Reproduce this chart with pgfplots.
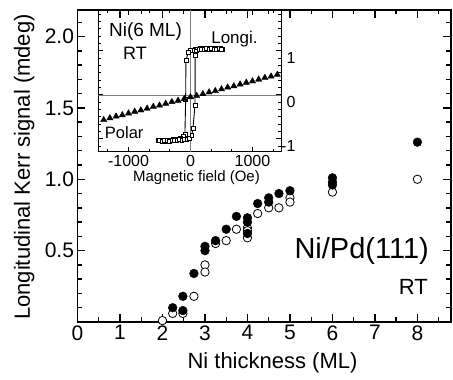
\documentclass[border=0pt]{standalone}
\usepackage{pgfplots}
\pgfplotsset{compat=1.18}
\usepackage{fontspec}
\setmainfont{Liberation Sans}
\begin{document}
\begin{tikzpicture}
\path[use as bounding box] (-77.5pt,-58pt) rectangle (375.5pt,322pt);
\begin{axis}[
  at={(0pt,0pt)}, anchor=south west,
  scale only axis, width=373.5pt, height=312pt,
  xmin=0, xmax=8.79, ymin=0, ymax=2.186,
  xtick={0,1,2,3,4,5,6,7,8}, xticklabels={0,1,2,3,4,5,6,7,8},
  minor xtick={0.5,1.5,2.5,3.5,4.5,5.5,6.5,7.5,8.5},
  ytick={0,0.5,1,1.5,2}, yticklabels={,0.5,1.0,1.5,2.0},
  minor ytick={0.1,0.2,0.3,0.4,0.6,0.7,0.8,0.9,1.1,1.2,1.3,1.4,1.6,1.7,1.8,1.9,2.1},
  tick align=inside,
  major tick length=8pt, minor tick length=4.5pt,
  tick style={black, line width=1.4pt},
  axis line style={line width=1.6pt},
  ticklabel style={font=\fontsize{21}{21}\selectfont},
  /pgf/number format/assume math mode=true,
  clip=false,
]
\addplot[only marks, mark=*, mark size=4.2pt, mark options={fill=white, draw=black, line width=0.8pt}] table {
x y
2.00 0.01
2.24 0.06
2.48 0.06
2.74 0.18
3.00 0.40
3.00 0.35
3.25 0.55
3.50 0.57
3.74 0.65
4.00 0.66
4.00 0.64
4.00 0.59
4.24 0.76
4.50 0.80
4.74 0.80
5.00 0.87
5.00 0.84
6.00 0.91
8.00 1.00
};
\addplot[only marks, mark=*, mark size=4.4pt, mark options={fill=black, draw=black}] table {
x y
2.24 0.10
2.48 0.08
2.48 0.18
2.74 0.34
3.00 0.53
3.00 0.50
3.25 0.57
3.50 0.65
3.74 0.74
4.00 0.73
4.00 0.70
4.00 0.62
4.24 0.83
4.50 0.87
4.50 0.84
4.74 0.90
5.00 0.92
6.00 1.01
6.00 0.98
6.00 0.96
8.00 1.26
};
\end{axis}
\begin{axis}[
  at={(21pt,170pt)}, anchor=south west,
  scale only axis, width=182.5pt, height=142pt,
  xmin=-1484, xmax=1460, ymin=-1.3, ymax=1.93,
  xtick={-1000,0,1000}, xticklabels={-1000,0,1000},
  minor xtick={-1333.3,-666.7,-333.3,333.3,666.7,1333.3},
  ytick={-1,0,1}, yticklabels={-1,0,1},
  minor ytick={-1.1667,-0.8333,-0.6667,-0.5,-0.3333,-0.1667,0.1667,0.3333,0.5,0.6667,0.8333,1.1667,1.3333,1.5,1.6667,1.8333},
  yticklabel pos=right,
  tick align=inside,
  major tick length=5pt, minor tick length=3pt,
  tick style={black, line width=0.9pt},
  axis line style={line width=1pt},
  ticklabel style={font=\fontsize{16}{16}\selectfont},
  yticklabel style={anchor=east, xshift=18pt, yshift=-7pt},
  /pgf/number format/assume math mode=true,
]
\draw[gray, line width=0.5pt] (axis cs:0,-1.3) -- (axis cs:0,1.93);
\draw[gray, line width=0.5pt] (axis cs:-1484,0) -- (axis cs:1460,0);
\addplot[black, line width=0.9pt, mark=square*, mark size=1.9pt, mark options={fill=white, draw=black, line width=0.6pt}] coordinates {
(520,1.04)(480,1.05)(440,1.03)(400,1.05)(360,1.04)(320,1.06)(280,1.04)(240,1.05)(200,1.03)(160,1.05)(120,1.04)(80,1.03)(40,1.02)(0,1.01)(-35,0.97)(-74,0.78)(-78,-0.11)(-90,-0.90)(-120,-0.95)(-160,-0.99)(-200,-1.01)(-240,-1.03)(-280,-1.02)(-320,-1.04)(-360,-1.03)(-400,-1.05)(-440,-1.03)(-480,-1.04)(-520,-1.03)
(-500,-1.04)(-460,-1.05)(-420,-1.04)(-380,-1.03)(-340,-1.05)(-300,-1.04)(-260,-1.03)(-220,-1.04)(-180,-1.02)(-140,-1.03)(-100,-1.02)(-60,-1.01)(-20,-0.98)(20,-0.92)(40,-0.76)(73,-0.23)(76,0.90)(100,1.00)(140,1.03)(180,1.04)(220,1.03)(260,1.05)(300,1.04)(340,1.05)(380,1.03)(420,1.04)(460,1.05)(500,1.03)
};
\addplot[only marks, mark=triangle*, mark size=3.6pt, mark options={fill=black, draw=black}] coordinates {
(-1500,-0.60)(-1400,-0.57)(-1300,-0.53)(-1200,-0.49)(-1100,-0.46)(-1000,-0.42)(-900,-0.38)(-800,-0.35)(-700,-0.31)(-600,-0.27)(-500,-0.24)(-400,-0.20)(-300,-0.16)(-200,-0.13)(-100,-0.09)(0,-0.05)(100,-0.02)(200,0.02)(300,0.06)(400,0.09)(500,0.13)(600,0.17)(700,0.20)(800,0.24)(900,0.28)(1000,0.31)(1100,0.35)(1200,0.39)(1300,0.42)(1400,0.46)(1500,0.50)
};
\end{axis}
% text labels
\node[anchor=base, font=\fontsize{19}{19}\selectfont] at (68pt,285.3pt) {Ni(6 ML)};
\node[anchor=base, font=\fontsize{18}{18}\selectfont] at (57.5pt,262pt) {RT};
\node[anchor=base, font=\fontsize{17}{17}\selectfont] at (157pt,278.7pt) {Longi.};
\node[anchor=base, font=\fontsize{16.5}{16.5}\selectfont] at (46.7pt,183pt) {Polar};
\node[anchor=base, font=\fontsize{15}{15}\selectfont] at (119pt,140.3pt) {Magnetic field (Oe)};
\node[anchor=base, font=\fontsize{29}{29}\selectfont] at (284.2pt,63.7pt) {Ni/Pd(111)};
\node[anchor=base, font=\fontsize{22}{22}\selectfont] at (335.8pt,27pt) {RT};
\node[anchor=base, font=\fontsize{22}{22}\selectfont] at (195pt,-46.3pt) {Ni thickness (ML)};
\node[anchor=base, rotate=90, font=\fontsize{22}{22}\selectfont] at (-47.5pt,155pt) {Longitudinal Kerr signal (mdeg)};
\end{tikzpicture}
\end{document}
